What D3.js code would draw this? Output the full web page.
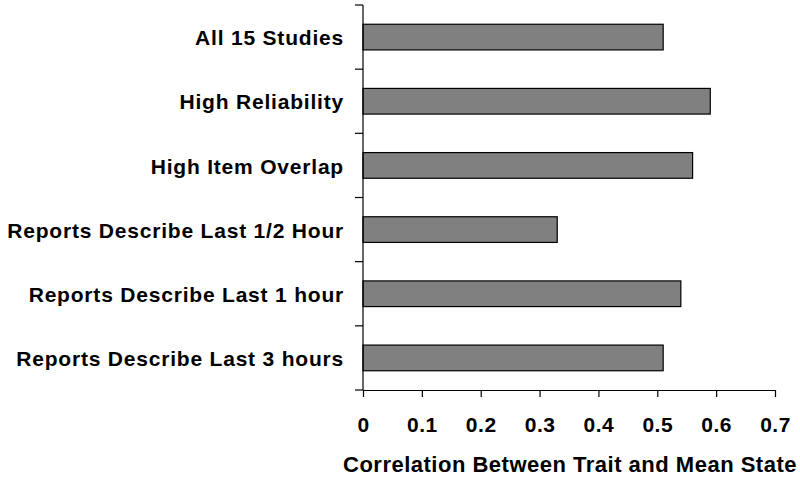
<!DOCTYPE html>
<html>
<head>
<meta charset="utf-8">
<script src="https://cdn.jsdelivr.net/npm/d3@7"></script>
<style>
  body { margin: 0; background: #fff; }
  svg { font-family: "Liberation Sans", Arial, sans-serif; font-weight: bold; }
</style>
</head>
<body>
<svg id="chart" width="800" height="479"></svg>
<script>
// categories top to bottom, with their correlation values
let categories = [
  "All 15 Studies",
  "High Reliability",
  "High Item Overlap",
  "Reports Describe Last 1/2 Hour",
  "Reports Describe Last 1 hour",
  "Reports Describe Last 3 hours",
];
let values = [0.51, 0.59, 0.56, 0.33, 0.54, 0.51];
let xTicks = [0, 0.1, 0.2, 0.3, 0.4, 0.5, 0.6, 0.7];
let xTitle = "Correlation Between Trait and Mean State";

var svg = d3.select("#chart");

var x = d3.scaleLinear().domain([0, 0.7]).range([363, 775]);
var y = d3
  .scaleBand()
  .domain(categories)
  .range([5, 390])
  .paddingInner(0.6)
  .paddingOuter(0.3);

// bars
svg
  .selectAll("rect.bar")
  .data(categories)
  .enter()
  .append("rect")
  .attr("class", "bar")
  .attr("x", x(0))
  .attr("y", (d) => y(d))
  .attr("width", (d, i) => x(values[i]) - x(0))
  .attr("height", y.bandwidth())
  .style("fill", "#808080")
  .style("stroke", "#000")
  .style("stroke-width", 1.2);

// y axis line + ticks between categories
svg
  .append("line")
  .attr("x1", x(0))
  .attr("x2", x(0))
  .attr("y1", y.range()[0])
  .attr("y2", y.range()[1])
  .style("stroke", "#000")
  .style("stroke-width", 1.2);

d3.range(categories.length + 1).map((i) => {
  let yy = y.range()[0] + i * y.step();
  svg
    .append("line")
    .attr("x1", x(0) - 8)
    .attr("x2", x(0))
    .attr("y1", yy)
    .attr("y2", yy)
    .style("stroke", "#000")
    .style("stroke-width", 1.2);
});

// category labels
categories.map((c) => {
  svg
    .append("text")
    .attr("x", 344)
    .attr("y", y(c) + y.bandwidth() / 2)
    .attr("dy", "0.39em")
    .attr("text-anchor", "end")
    .style("font-size", "21px")
    .style("letter-spacing", "0.8px")
    .text(c);
});

// x axis
var xAxis = svg
  .append("g")
  .attr("transform", `translate(0,${y.range()[1]})`)
  .call(
    d3
      .axisBottom(x)
      .tickValues(xTicks)
      .tickSize(7)
      .tickSizeOuter(0)
      .tickPadding(20)
      .tickFormat((d) => (d === 0 ? "0" : d3.format(".1f")(d)))
  );
xAxis.select(".domain").style("stroke", "#000").style("stroke-width", 1.2);
xAxis.selectAll(".tick line").style("stroke", "#000").style("stroke-width", 1.2);
xAxis
  .selectAll(".tick text")
  .style("font-family", '"Liberation Sans", Arial, sans-serif')
  .style("font-weight", "bold")
  .style("font-size", "21px")
  .style("letter-spacing", "0.5px")
  .style("fill", "#000");

// x title
svg
  .append("text")
  .attr("x", 570)
  .attr("y", 472)
  .attr("text-anchor", "middle")
  .style("font-size", "22px")
  .style("letter-spacing", "0.5px")
  .text(xTitle);
</script>
</body>
</html>
